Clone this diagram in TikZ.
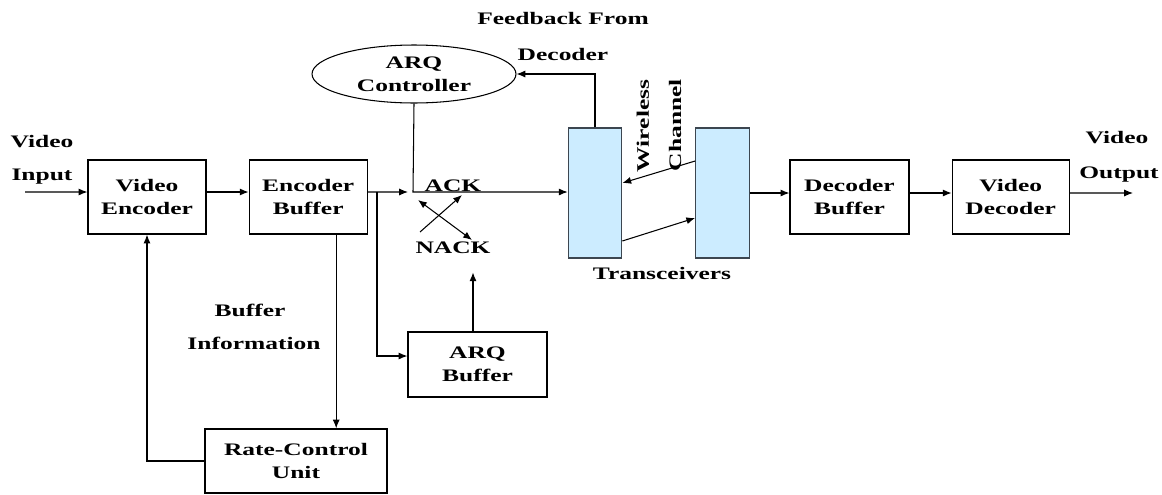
\documentclass[tikz,border=0pt]{standalone}
\usepackage{fontspec}
\setmainfont{Liberation Serif}[FakeStretch=1.45]
\usepackage{xcolor}
\usetikzlibrary{shapes.geometric, arrows.meta, positioning}
\definecolor{trxblue}{RGB}{204,236,255}
\definecolor{trxedge}{RGB}{60,70,80}

\begin{document}
\begin{tikzpicture}[x=0.02cm, y=-0.02cm,
    block/.style={draw, line width=0.7pt, minimum width=2.36cm, minimum height=1.48cm,
                  font=\bfseries, align=center},
    trx/.style={draw=trxedge, line width=0.7pt, fill=trxblue, minimum width=1.07cm,
                minimum height=2.6cm},
    lbl/.style={font=\bfseries, inner sep=0pt},
    arr/.style={-{Latex[length=5pt, width=4pt]}, line width=0.6pt}
]
    \useasboundingbox (0,0) rectangle (1162,494);

    % sending side
    \node[block] (venc) at (147,197) {Video\\[1pt]Encoder};
    \node[block, right=0.84cm of venc] (ebuf) {Encoder\\[1pt]Buffer};
    \node[draw, ellipse, line width=0.6pt, minimum width=4.08cm, minimum height=1.16cm,
          font=\bfseries, align=center, inner sep=0pt] (arqc) at (414,74) {ARQ\\[1pt]Controller};
    \node[block, minimum width=2.78cm, minimum height=1.3cm] (arqbuf) at (477.5,364.5) {ARQ\\[1pt]Buffer};
    \node[block, minimum width=3.64cm, minimum height=1.28cm] (rcu) at (296,461) {Rate-Control\\[1pt]Unit};

    % transceivers
    \node[trx] (trx1) at (595,193) {};
    \node[trx] (trx2) at (722.5,193) {};

    % receiving side
    \node[block, minimum width=2.38cm] (dbuf) at (849.5,197) {Decoder\\[1pt]Buffer};
    \node[block, minimum width=2.34cm, right=0.84cm of dbuf] (vdec) {Video\\[1pt]Decoder};

    % free ends and junctions
    \coordinate (vin) at (25,192);
    \coordinate (vout) at (1133,193);
    \coordinate (sw) at (413,192);
    \coordinate (split) at (377,192);

    % labels
    \node[lbl] (inA) at (42,142) {Video};
    \node[lbl] (inB) at (42,177) {Input};
    \node[lbl] (outA) at (1117,138) {Video};
    \node[lbl] (outB) at (1119,175) {Output};
    \node[lbl] (bufA) at (250,310) {Buffer};
    \node[lbl] (bufB) at (254,343) {Information};
    \node[lbl] (fbA) at (563,18) {Feedback From};
    \node[lbl] (fbB) at (563,54) {Decoder};
    \node[lbl, rotate=90] (wlA) at (643,126) {Wireless};
    \node[lbl, rotate=90] (wlB) at (675,125) {Channel};
    \node[lbl] (trxlbl) at (662,273) {Transceivers};
    \node[lbl] (ack) at (453,186) {ACK};
    \node[lbl] (nack) at (453,248) {NACK};

    % main flow
    \draw[arr] (vin) -- ([yshift=0.1cm]venc.west);
    \draw[arr] ([yshift=0.1cm]venc.east) -- ([yshift=0.1cm]ebuf.west);
    \draw[arr] ([yshift=0.1cm]ebuf.east) -- ([xshift=-0.1cm]sw);
    \draw[arr] (arqc.south) -- (sw) -- (sw -| trx1.west);
    \draw[arr] (split) |- ([yshift=0.17cm]arqbuf.west);
    \draw[arr] ([xshift=-0.09cm]arqbuf.north) -- ++(0,-59);

    % ack / nack switch
    \coordinate (c1) at (420,232);
    \coordinate (c2) at (462,195);
    \coordinate (c3) at (418,200);
    \coordinate (c4) at (472,240);
    \draw[arr] (c1) -- (c2);
    \draw[arr, {Latex[length=5pt, width=4pt]}-{Latex[length=5pt, width=4pt]}] (c3) -- (c4);

    % feedback and channel
    \draw[arr] (trx1.north) |- (arqc.east);
    \draw[arr] ([yshift=0.64cm]trx2.west) -- ([yshift=0.2cm]trx1.east);
    \draw[arr] ([yshift=-0.96cm]trx1.east) -- ([yshift=-0.5cm]trx2.west);
    \draw[arr] (trx2.east) -- (trx2.east -| dbuf.west);
    \draw[arr] ([yshift=0.08cm]dbuf.east) -- ([yshift=0.08cm]vdec.west);
    \draw[arr] ([yshift=0.08cm]vdec.east) -- (vout);

    % rate control loop
    \draw[arr] ([xshift=0.56cm]ebuf.south) -- ([xshift=0.56cm]ebuf.south |- rcu.north);
    \draw[arr] (rcu.west) -| (venc.south);
\end{tikzpicture}
\end{document}
